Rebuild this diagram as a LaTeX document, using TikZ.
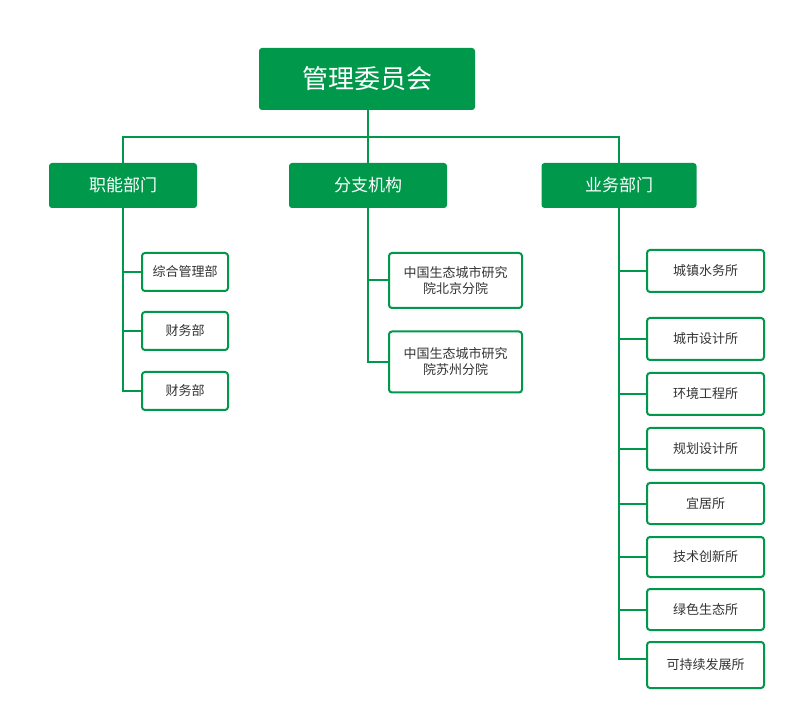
\documentclass[tikz,border=0pt]{standalone}
\usepackage{fontspec}
\setmainfont{Noto Sans CJK SC}
\usepackage{tikz}
\usetikzlibrary{positioning,calc}

\definecolor{orggreen}{HTML}{00984A}
\definecolor{orgtext}{HTML}{333333}

\tikzset{
  topbox/.style={rectangle,rounded corners=3pt,fill=orggreen,text=white,inner sep=0pt,
    minimum width=216pt,minimum height=62pt,font=\fontsize{26}{30}\selectfont},
  deptbox/.style={rectangle,rounded corners=3pt,fill=orggreen,text=white,inner sep=0pt,
    minimum height=45pt,font=\fontsize{17}{20}\selectfont},
  unitbox/.style={rectangle,rounded corners=3pt,draw=orggreen,line width=2pt,fill=white,
    text=orgtext,inner sep=0pt,align=center,font=\fontsize{13}{16}\selectfont},
  link/.style={draw=orggreen,line width=2pt}
}

\begin{document}
\begin{tikzpicture}[x=1pt,y=-1pt]
          \useasboundingbox (0,0) rectangle (796,719);

          % Draw the top box
          \node[topbox] (board) at (367,79) {管理委员会};

          % Draw the departments
          \node[deptbox,minimum width=148pt] (func) at (123,185.5) {职能部门};
          \node[deptbox,minimum width=158pt] (branch) at (368,185.5) {分支机构};
          \node[deptbox,minimum width=155pt] (biz) at (619,185.5) {业务部门};
          \coordinate (bus) at (368,137);

          % Draw the functional units
          \node[unitbox,minimum width=86pt,minimum height=38pt] (f1) at (185,272) {综合管理部};
          \node[unitbox,minimum width=86pt,minimum height=38pt] (f2) at (185,331) {财务部};
          \node[unitbox,minimum width=86pt,minimum height=38pt] (f3) at (185,391) {财务部};

          % Draw the branches
          \node[unitbox,minimum width=133pt,minimum height=55pt] (b1) at (455.5,280.5) {中国生态城市研究\\院北京分院};
          \node[unitbox,minimum width=133pt,minimum height=61pt] (b2) at (455.5,362) {中国生态城市研究\\院苏州分院};

          % Draw the business institutes
          \node[unitbox,minimum width=117pt,minimum height=42pt] (u1) at (705.5,271) {城镇水务所};
          \node[unitbox,minimum width=117pt,minimum height=42pt] (u2) at (705.5,339) {城市设计所};
          \node[unitbox,minimum width=117pt,minimum height=42pt] (u3) at (705.5,394) {环境工程所};
          \node[unitbox,minimum width=117pt,minimum height=42pt] (u4) at (705.5,449) {规划设计所};
          \node[unitbox,minimum width=117pt,minimum height=41pt] (u5) at (705.5,503.5) {宜居所};
          \node[unitbox,minimum width=117pt,minimum height=40pt] (u6) at (705.5,557) {技术创新所};
          \node[unitbox,minimum width=117pt,minimum height=41pt] (u7) at (705.5,609.5) {绿色生态所};
          \node[unitbox,minimum width=117pt,minimum height=46pt] (u8) at (705.5,665) {可持续发展所};
          \coordinate (u8in) at (647,659);

          % Draw the edges
          \path[link] (board.south -| bus) -- (branch.north);
          \path[link] (func.north) |- (bus) -| (biz.north);
          \foreach \u in {f1,f2,f3} \path[link] (func.south) |- (\u.west);
          \foreach \u in {b1,b2} \path[link] (branch.south) |- (\u.west);
          \foreach \u in {u1,u2,u3,u4,u5,u6,u7} \path[link] (biz.south) |- (\u.west);
          \path[link] (biz.south) |- (u8in);

        \end{tikzpicture}
\end{document}
